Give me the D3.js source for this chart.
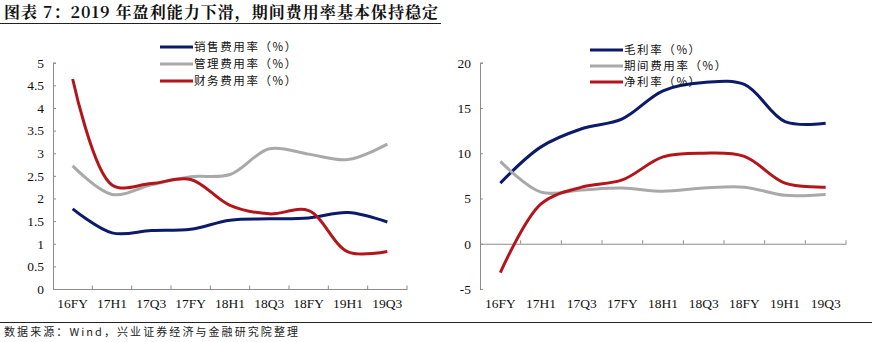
<!DOCTYPE html>
<html><head><meta charset="utf-8">
<script src="https://cdn.jsdelivr.net/npm/d3@7/dist/d3.min.js"></script>
<style>body{margin:0;background:#fff;}svg{display:block;}</style>
</head><body><svg id="c" width="872" height="342"></svg>
<script>
const categories = ["16FY","17H1","17Q3","17FY","18H1","18Q3","18FY","19H1","19Q3"];
const salesRate = [1.77,1.24,1.29,1.32,1.52,1.55,1.57,1.69,1.48];
const adminRate = [2.72,2.09,2.30,2.48,2.53,3.10,2.98,2.86,3.20];
const financeRate = [4.64,2.30,2.33,2.42,1.85,1.66,1.73,0.82,0.83];
const grossMargin = [6.7,10.7,12.7,13.8,16.9,17.8,17.6,13.5,13.3];
const periodExpense = [9.1,5.7,5.95,6.15,5.8,6.15,6.25,5.35,5.45];
const netMargin = [-3.2,4.4,6.25,7.05,9.6,10.0,9.65,6.7,6.25];
const leftTicks = [0,0.5,1,1.5,2,2.5,3,3.5,4,4.5,5];
const rightTicks = [-5,0,5,10,15,20];
const leftNames = ["销售费用率（%）","管理费用率（%）","财务费用率（%）"];
const rightNames = ["毛利率（%）","期间费用率（%）","净利率（%）"];
const colors = ["#0c1a6b","#a9a9a9","#b3151b"];

const svg = d3.select("#c");
const serif = "'Liberation Serif','DejaVu Serif',serif";
const cjk = "'Noto Sans CJK SC','Noto Sans',sans-serif";

// Title
svg.append("text").attr("x",4).attr("y",18).attr("font-family","'Noto Serif CJK SC','Noto Sans CJK SC',serif")
  .attr("font-weight","bold").attr("font-size",16).attr("fill","#111")
  .attr("textLength",434).attr("lengthAdjust","spacing")
  .text("图表 7：2019 年盈利能力下滑，期间费用率基本保持稳定");
svg.append("line").attr("x1",0).attr("x2",441).attr("y1",23.5).attr("y2",23.5).attr("stroke","#222").attr("stroke-width",1.2);
// Footer
svg.append("line").attr("x1",0).attr("x2",872).attr("y1",322.5).attr("y2",322.5).attr("stroke","#222").attr("stroke-width",1);
svg.append("text").attr("x",4).attr("y",336).attr("font-family",cjk).attr("font-size",11).attr("fill","#222")
  .attr("textLength",294).attr("lengthAdjust","spacing")
  .text("数据来源：Wind，兴业证券经济与金融研究院整理");

function panel(opt){
  const g = svg.append("g");
  const x = d3.scaleBand().domain(categories).range([opt.x0,opt.x1]);
  const y = d3.scaleLinear().domain(opt.domain).range([opt.yb,opt.yt]);
  const axisColor = "#8c8c8c";
  const ya = g.append("g").attr("transform",`translate(${opt.x0},0)`)
    .call(d3.axisLeft(y).tickValues(opt.ticks).tickSize(-3).tickPadding(9).tickFormat(d=>String(d)));
  ya.select(".domain").attr("stroke",axisColor);
  ya.selectAll(".tick line").attr("stroke",axisColor);
  ya.selectAll("text").attr("font-family",serif).attr("font-size",13.5).attr("fill","#111");
  const xa = g.append("g").attr("transform",`translate(0,${y(0)})`)
    .call(d3.axisBottom(x).tickSize(0).tickFormat(""));
  xa.select(".domain").attr("stroke",axisColor);
  xa.selectAll(".tick").remove();
  const bounds = categories.map(c=>x(c)+x.bandwidth());
  g.selectAll(".xt").data(bounds).enter().append("line")
    .attr("x1",d=>d).attr("x2",d=>d).attr("y1",y(0)).attr("y2",y(0)-3.5).attr("stroke",axisColor);
  g.selectAll(".xl").data(categories).enter().append("text")
    .attr("x",d=>x(d)+x.bandwidth()/2).attr("y",opt.labelY).attr("text-anchor","middle")
    .attr("font-family",serif).attr("font-size",13.5).attr("fill","#111").text(d=>d);
  const line = d3.line().x((d,i)=>x(categories[i])+x.bandwidth()/2).y(d=>y(d)).curve(d3.curveCatmullRom.alpha(0.5));
  opt.series.forEach((s,k)=>{
    g.append("path").datum(s).attr("d",line).attr("fill","none").attr("stroke",colors[k]).attr("stroke-width",3).attr("stroke-linejoin","round");
  });
  opt.names.forEach((n,k)=>{
    const ly = opt.ly + k*opt.lstep;
    g.append("line").attr("x1",opt.lx).attr("x2",opt.lx+33).attr("y1",ly).attr("y2",ly).attr("stroke",colors[k]).attr("stroke-width",3);
    g.append("text").attr("x",opt.lx+34).attr("y",ly+4).attr("font-family",cjk).attr("font-size",11.5)
      .attr("letter-spacing",1.6).attr("fill","#111").text(n);
  });
}

panel({x0:53,x1:407,yb:289,yt:62.7,domain:[0,5],ticks:leftTicks,labelY:308,
  series:[salesRate,adminRate,financeRate],names:leftNames,lx:160,ly:47,lstep:17});
panel({x0:480,x1:846,yb:289,yt:62.7,domain:[-5,20],ticks:rightTicks,labelY:308,
  series:[grossMargin,periodExpense,netMargin],names:rightNames,lx:590,ly:50,lstep:16});
</script></body></html>
